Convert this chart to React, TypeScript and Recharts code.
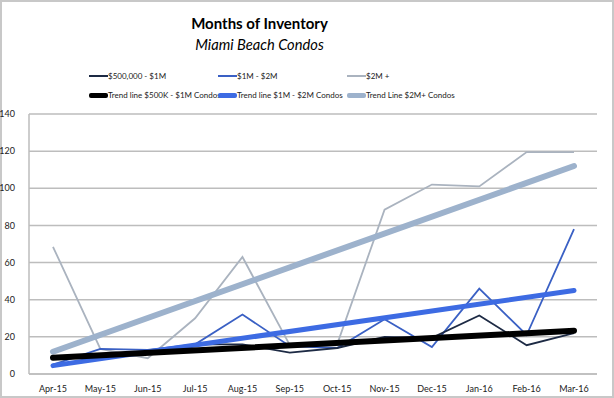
import React from 'react';
import { LineChart, Line, XAxis, YAxis, CartesianGrid } from 'recharts';

const months = ['Apr-15', 'May-15', 'Jun-15', 'Jul-15', 'Aug-15', 'Sep-15', 'Oct-15', 'Nov-15', 'Dec-15', 'Jan-16', 'Feb-16', 'Mar-16'];
const tierLow = [9, 10, 11, 16, 16, 11.5, 14, 20, 19.5, 31.5, 15.5, 22];
const tierMid = [5, 13.5, 13, 16, 32, 15, 14, 29.5, 14.5, 46, 21, 78];
const tierHigh = [68.5, 13.5, 8.5, 30, 63, 15.5, 16, 88.5, 102, 101, 119.5, 119.5];
const trendLow = [8.8, 23.3];
const trendMid = [4.5, 45];
const trendHigh = [12, 112];
const yTicks = [0, 20, 40, 60, 80, 100, 120, 140];

const last = months.length - 1;
const data = months.map((m, i) => ({
  month: m,
  low: tierLow[i],
  mid: tierMid[i],
  high: tierHigh[i],
  tLow: i === 0 ? trendLow[0] : i === last ? trendLow[1] : null,
  tMid: i === 0 ? trendMid[0] : i === last ? trendMid[1] : null,
  tHigh: i === 0 ? trendHigh[0] : i === last ? trendHigh[1] : null,
}));

const FONT = 'Lato, "Open Sans", sans-serif';

const legendItems = [
  { name: '$500,000 - $1M', color: '#1d2a44', w: 2, x: 89, y: 76 },
  { name: '$1M - $2M', color: '#3a60c4', w: 2, x: 218, y: 76 },
  { name: '$2M +', color: '#aab3bf', w: 2, x: 347, y: 76 },
  { name: 'Trend line $500K - $1M Condos', color: '#000000', w: 5, x: 89, y: 95 },
  { name: 'Trend line $1M - $2M Condos', color: '#3d6be3', w: 5, x: 218, y: 95 },
  { name: 'Trend Line $2M+ Condos', color: '#9db2cc', w: 5, x: 347, y: 95 },
];

export default function App() {
  return (
    <div style={{ position: 'absolute', left: 0, top: 0, width: 614, height: 398, background: '#fff', boxSizing: 'border-box', border: '2px solid #c8c8c8' }}>
      <div style={{ position: 'absolute', left: -2, top: -2, width: 614, height: 398 }}>
        <div style={{ position: 'absolute', left: 0, width: 519, top: 14, textAlign: 'center', fontFamily: FONT, fontWeight: 700, fontSize: 15, color: '#000' }}>Months of Inventory</div>
        <div style={{ position: 'absolute', left: 0, width: 519, top: 35, textAlign: 'center', fontFamily: FONT, fontStyle: 'italic', fontSize: 14.7, color: '#000' }}>Miami Beach Condos</div>
        {legendItems.map((it) => (
          <div key={it.name} style={{ position: 'absolute', left: it.x, top: it.y - 7, height: 14, display: 'flex', alignItems: 'center', fontFamily: FONT, fontSize: 8, color: '#222', whiteSpace: 'nowrap' }}>
            <span style={{ display: 'inline-block', width: 19, height: it.w, background: it.color, borderRadius: it.w > 2 ? 2 : 0 }} />
            <span>{it.name}</span>
          </div>
        ))}
        <LineChart width={614} height={398} data={data} margin={{ top: 114, right: 17, bottom: 0, left: 0 }}>
          <CartesianGrid vertical={false} stroke="#bdbdbd" strokeWidth={1.5} />
          <XAxis dataKey="month" height={24} padding={{ left: 24, right: 23 }} tickLine={false} axisLine={{ stroke: '#bdbdbd', strokeWidth: 1.5 }} tick={{ fontFamily: FONT, fontSize: 9, fill: '#222' }} tickMargin={6} interval={0} />
          <YAxis width={29} domain={[0, 140]} ticks={yTicks} tickLine={false} axisLine={{ stroke: '#bdbdbd', strokeWidth: 1.5 }} tick={{ fontFamily: FONT, fontSize: 9, fill: '#222' }} tickMargin={8} />
          <Line dataKey="high" stroke="#aab3bf" strokeWidth={1.8} dot={false} isAnimationActive={false} />
          <Line dataKey="tHigh" stroke="#9db2cc" strokeWidth={6} dot={false} connectNulls strokeLinecap="round" isAnimationActive={false} />
          <Line dataKey="mid" stroke="#3a60c4" strokeWidth={1.8} dot={false} isAnimationActive={false} />
          <Line dataKey="low" stroke="#1d2a44" strokeWidth={1.8} dot={false} isAnimationActive={false} />
          <Line dataKey="tMid" stroke="#3d6be3" strokeWidth={5} dot={false} connectNulls strokeLinecap="round" isAnimationActive={false} />
          <Line dataKey="tLow" stroke="#000000" strokeWidth={6} dot={false} connectNulls strokeLinecap="round" isAnimationActive={false} />
        </LineChart>
      </div>
    </div>
  );
}
